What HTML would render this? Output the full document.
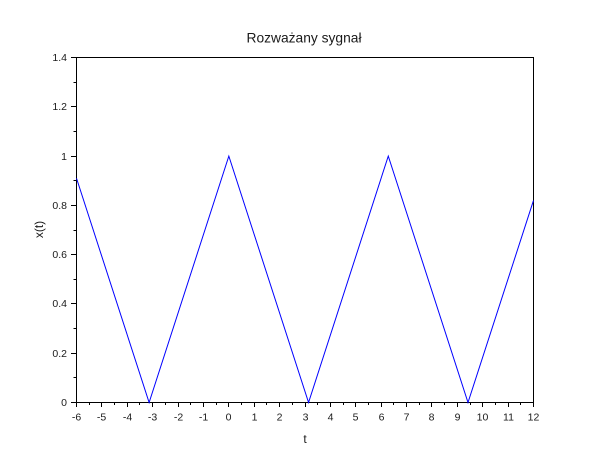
<!DOCTYPE html>
<html>
<head>
<meta charset="utf-8">
<style>
html,body{margin:0;padding:0;background:#fff;width:610px;height:460px;overflow:hidden}
svg{display:block}
text{font-family:"Liberation Sans",sans-serif;fill:#1a1a1a}
</style>
</head>
<body>
<svg id="chart" width="610" height="460" viewBox="0 0 610 460" xmlns="http://www.w3.org/2000/svg">
<text x="304" y="42.5" font-size="13.8" text-anchor="middle">Rozważany sygnał</text>
<text x="305" y="443" font-size="12" text-anchor="middle">t</text>
<text transform="translate(43 229.5) rotate(-90)" font-size="12" text-anchor="middle">x(t)</text>
<rect x="76.5" y="57.5" width="457" height="345" fill="none" stroke="#000" stroke-width="1"/>
<g id="ticks"></g>
<polyline id="line" fill="none" stroke="#0000ff" stroke-width="1"/>
</svg>
<script>
const xTickLabels = ["-6","-5","-4","-3","-2","-1","0","1","2","3","4","5","6","7","8","9","10","11","12"];
const yTickLabels = ["0","0.2","0.4","0.6","0.8","1","1.2","1.4"];
const seriesT = [-6, -3.14, 0, 3.14, 6.28, 9.42, 12];
const seriesX = [0.91, 0, 1, 0, 1, 0, 0.82];

function xScale(v){ return 76.5 + (v + 6) / 18 * 457; }
function yScale(v){ return 402.5 - v / 1.4 * 345; }

const NS = 'http://www.w3.org/2000/svg';
const ticks = document.getElementById('ticks');

function addTick(x1, y1, x2, y2){
  const l = document.createElementNS(NS, 'line');
  
  
  l.setAttribute('x1', x1);
  l.setAttribute('y1', y1);
  l.setAttribute('x2', x2);
  l.setAttribute('y2', y2);
  l.setAttribute('stroke', '#000');
  ticks.appendChild(l);
}

function addLabel(x, y, anchor, str){
  const t = document.createElementNS(NS, 'text');
  
  
  t.setAttribute('x', x);
  t.setAttribute('y', y);
  t.setAttribute('font-size', '10.5');
  t.setAttribute('text-anchor', anchor);
  t.textContent = str;
  ticks.appendChild(t);
}

xTickLabels.forEach(function(s){
  const v = parseFloat(s);
  const x = Math.round(xScale(v) - 0.5) + 0.5;
  addTick(x, 402.5, x, 407);
  addLabel(x, 420.5, 'middle', s);
  if (v < 12) {
    const xm = Math.round(xScale(v + 0.5) - 0.5) + 0.5;
    addTick(xm, 402.5, xm, 405);
  }
});

yTickLabels.forEach(function(s){
  const v = parseFloat(s);
  const y = Math.round(yScale(v) - 0.5) + 0.5;
  addTick(76.5, y, 71, y);
  addLabel(67, y + 3.5, 'end', s);
  if (v < 1.4) {
    const ym = Math.round(yScale(v + 0.1) - 0.5) + 0.5;
    addTick(76.5, ym, 73.5, ym);
  }
});

document.getElementById('line').setAttribute('points',
  seriesT.map(function(t, i){ return xScale(t) + ',' + yScale(seriesX[i]); }).join(' '));
</script>
</body>
</html>
